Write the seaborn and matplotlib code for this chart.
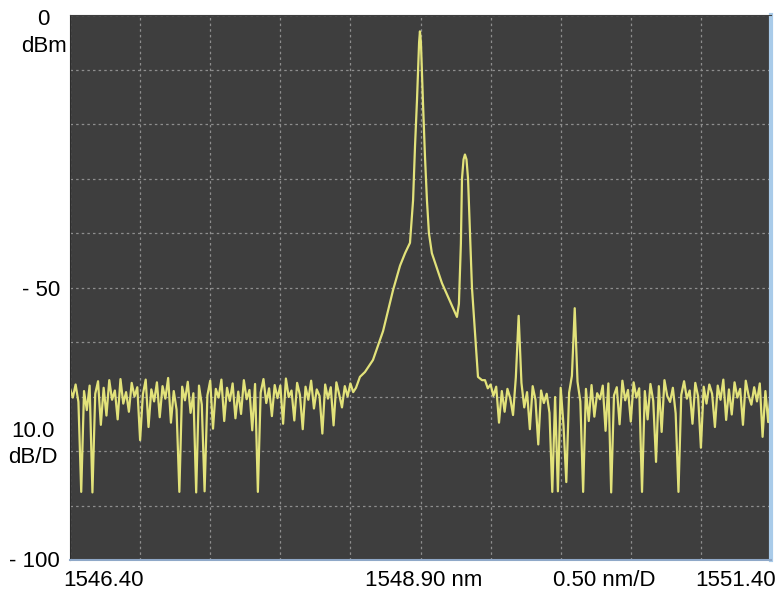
import numpy as np
import pandas as pd
import seaborn as sns
import matplotlib.pyplot as plt

# noise floor left of the main line, 1546.40 .. 1548.44 nm, 0.02 nm step
noise_left = [
    -68.5, -70.2, -67.8, -71.0, -87.5, -69.0, -72.5, -68.0, -87.6, -69.5,
    -67.2, -75.2, -68.4, -73.5, -67.0, -70.6, -68.9, -74.2, -66.8, -71.3,
    -69.2, -72.8, -67.5, -70.0, -68.3, -78.0, -69.6, -66.9, -75.6, -68.7,
    -70.9, -67.4, -73.8, -68.1, -70.4, -66.6, -74.8, -69.0, -72.4, -87.5,
    -68.2, -70.7, -67.3, -73.0, -69.4, -87.6, -68.0, -71.5, -87.4, -69.8,
    -67.1, -75.9, -68.6, -70.2, -66.9, -74.5, -68.4, -70.8, -67.6, -74.0,
    -69.1, -73.2, -67.0, -70.5, -68.8, -76.2, -67.7, -87.5, -69.3, -66.8,
    -71.2, -68.5, -73.6, -67.9, -70.3, -68.0, -75.0, -66.7, -70.1, -68.9,
    -74.4, -67.5, -69.7, -76.0, -68.2, -70.6, -67.1, -72.2, -68.7, -69.9,
    -76.8, -67.8, -70.4, -68.3, -75.3, -67.4, -69.6, -72.0, -68.1, -70.0,
    -67.6, -69.2, -68.4,
]

# main line + second line
peak_wl = [
    1548.468, 1548.504, 1548.561, 1548.633, 1548.704, 1548.754, 1548.790,
    1548.825, 1548.847, 1548.861, 1548.875, 1548.890, 1548.896, 1548.903,
    1548.917, 1548.932, 1548.946, 1548.960, 1548.981, 1549.018, 1549.053,
    1549.110, 1549.160, 1549.174, 1549.188, 1549.196, 1549.207, 1549.217,
    1549.228, 1549.239, 1549.253, 1549.267, 1549.289, 1549.310, 1549.339,
]
peak_db = [
    -66.4, -65.5, -63.3, -58.0, -50.5, -46.0, -43.7,
    -41.8, -34.0, -24.0, -15.6, -5.0, -3.0, -5.0,
    -15.6, -26.0, -34.0, -40.0, -43.7, -46.5, -49.2,
    -52.5, -55.4, -53.0, -42.0, -30.0, -26.5, -25.6,
    -26.5, -30.0, -40.0, -50.0, -58.3, -66.4, -67.0,
]

# noise floor right of the lines, 1549.36 .. 1551.40 nm, 0.02 nm step
noise_right = [
    -67.0, -68.5, -67.8, -69.9, -68.2, -74.8, -69.0, -72.8, -68.6, -70.3,
    -73.4, -66.5, -55.2, -67.5, -72.0, -69.2, -76.0, -68.1, -70.6, -78.8,
    -68.9, -71.2, -69.5, -73.0, -87.5, -70.1, -87.4, -68.4, -75.3, -85.7,
    -69.3, -66.2, -53.8, -67.3, -70.9, -87.5, -68.6, -74.5, -67.9, -73.7,
    -69.4, -70.5, -68.0, -76.3, -67.6, -87.6, -69.8, -68.3, -75.1, -67.1,
    -70.7, -68.8, -74.6, -67.4, -70.2, -68.5, -87.5, -69.0, -74.2, -67.7,
    -70.8, -82.0, -68.1, -76.5, -67.0, -69.9, -71.0, -68.4, -73.1, -87.5,
    -69.7, -67.2, -70.4, -68.9, -75.0, -67.5, -70.0, -79.4, -68.2, -71.3,
    -67.8, -69.5, -75.6, -68.0, -70.6, -66.9, -74.3, -68.7, -73.3, -67.4,
    -70.2, -68.6, -75.2, -67.1, -69.8, -71.5, -68.3, -70.9, -67.6, -77.4,
    -69.0, -74.7, -68.5,
]

left_wl = np.linspace(1546.40, 1548.44, len(noise_left))
right_wl = np.linspace(1549.36, 1551.40, len(noise_right))

df = pd.DataFrame({
    "wl": np.concatenate([left_wl, peak_wl, right_wl]),
    "dbm": np.concatenate([noise_left, peak_db, noise_right]),
})

sns.set_style("dark", {"axes.facecolor": "#3e3e3e"})
plt.rcParams["font.family"] = ["Liberation Sans", "DejaVu Sans"]

W, H = 781, 594
fig = plt.figure(figsize=(W / 100, H / 100), dpi=100)
fig.patch.set_facecolor("white")
ax = fig.add_axes([70 / W, 1 - 560 / H, 701 / W, 545 / H])

sns.lineplot(data=df, x="wl", y="dbm", ax=ax, color="#e2e27a", lw=1.6,
             estimator=None, sort=False)

ax.set_xlim(1546.40, 1551.40)
ax.set_ylim(-100, 0)
ax.set_xticks(np.arange(1546.40, 1551.41, 0.5))
ax.set_yticks(np.arange(-100, 1, 10))
ax.set_xticklabels([])
ax.set_yticklabels([])
ax.tick_params(length=0)
ax.set_xlabel("")
ax.set_ylabel("")
ax.grid(True, color="#8e8e8e", lw=0.9, ls=(0, (2, 2.5)))
ax.set_axisbelow(True)

ax.spines["left"].set_color("#2c2c2c")
ax.spines["top"].set_color("#3e3e3e")
ax.spines["right"].set_color("#a9cbe9")
ax.spines["right"].set_linewidth(3)
ax.spines["bottom"].set_color("#8fa8c8")
ax.spines["bottom"].set_linewidth(1.5)


def label(px, py, s, ha):
    fig.text(px / W, 1 - py / H, s, ha=ha, va="baseline", fontsize=16, color="black")


label(43, 25, "0", "center")
label(67, 52, "dBm", "right")
label(60, 296, "- 50", "right")
label(55, 437, "10.0", "right")
label(58, 463, "dB/D", "right")
label(60, 567, "- 100", "right")

label(63, 586, "1546.40", "left")
label(365, 586, "1548.90 nm", "left")
label(553, 586, "0.50 nm/D", "left")
label(776, 586, "1551.40", "right")

fig.savefig("out.png", dpi=100)
